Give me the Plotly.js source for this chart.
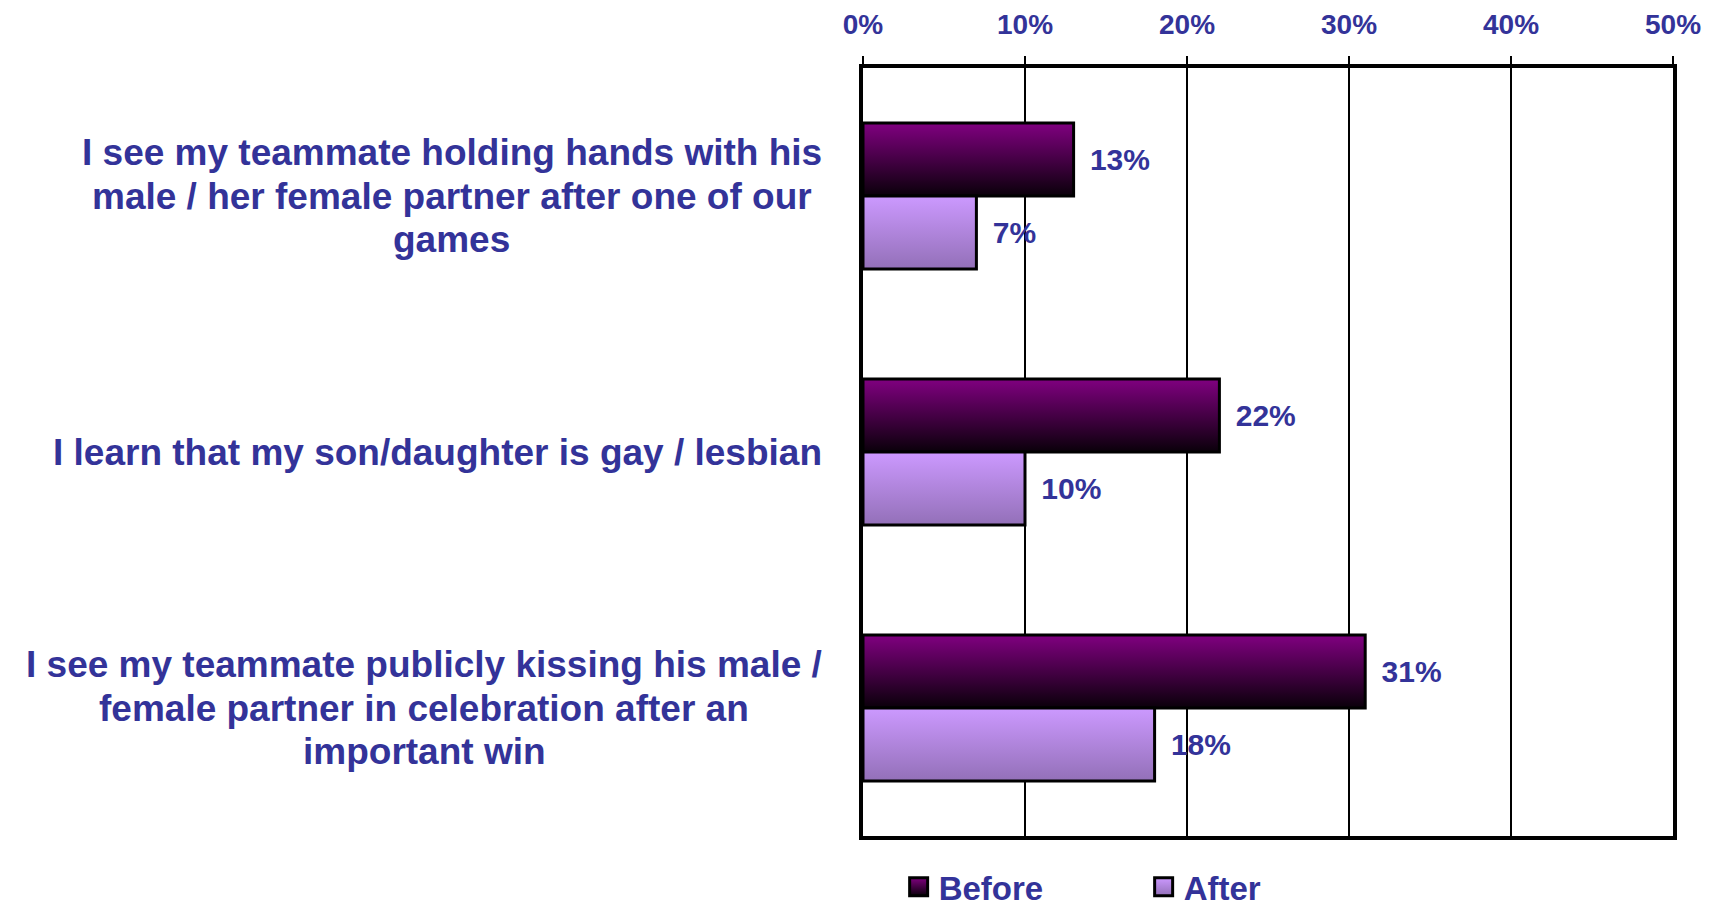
<!DOCTYPE html>
<html>
<head>
<meta charset="utf-8">
<script src="https://cdn.plot.ly/plotly-3.0.1.min.js"></script>
<style>
html,body{margin:0;padding:0;background:#fff;}
#chart{width:1713px;height:912px;}
</style>
</head>
<body>
<div id="chart"></div>
<script>
// ---- data ----
const categories = [
  "I see my teammate holding hands with his<br>male / her female partner after one of our<br>games",
  "I learn that my son/daughter is gay / lesbian",
  "I see my teammate publicly kissing his male /<br>female partner in celebration after an<br>important win"
];
const seriesNames = ["Before", "After"];
const beforeValues = [13, 22, 31];
const afterValues = [7, 10, 18];
const tickValues = [0, 10, 20, 30, 40, 50];
const tickLabels = ["0%", "10%", "20%", "30%", "40%", "50%"];

const FONT = "Liberation Sans, Arial, sans-serif";
const BLUE = "#333399";
const CAT_SIZE = 37;
const LINE_GAP = 43.7;
const LABEL_RIGHT = -41;

function barTrace(name, values, color) {
  return {
    type: "bar",
    orientation: "h",
    name: name,
    y: categories,
    x: values,
    text: values.map(v => "\u00a0\u2006" + v + "%"),
    textposition: "outside",
    cliponaxis: false,
    textfont: {family: FONT, size: 30, color: BLUE, weight: "bold"},
    marker: {color: color, line: {color: "#000", width: 3}},
    hoverinfo: "x+name"
  };
}

const data = [
  barTrace(seriesNames[0], beforeValues, "#5a005a"),
  barTrace(seriesNames[1], afterValues, "#b088e0")
];

// category labels: block right-aligned next to the axis, lines centred in the block
const ctx = document.createElement("canvas").getContext("2d");
ctx.font = "bold " + CAT_SIZE + "px 'Liberation Sans'";
const annotations = [];
categories.forEach(c => {
  const lines = c.split("<br>");
  const maxW = Math.max(...lines.map(l => ctx.measureText(l).width));
  const n = lines.length;
  lines.forEach((l, i) => {
    annotations.push({
      xref: "paper", yref: "y", x: 0, y: c,
      xanchor: "center", yanchor: "middle",
      xshift: LABEL_RIGHT - maxW / 2,
      yshift: ((n - 1) / 2 - i) * LINE_GAP,
      showarrow: false, text: l,
      font: {family: FONT, size: CAT_SIZE, color: BLUE, weight: "bold"}
    });
  });
});

const layout = {
  width: 1713, height: 912,
  margin: {l: 863, r: 40, t: 68, b: 76, pad: 0, autoexpand: false},
  paper_bgcolor: "#fff", plot_bgcolor: "#fff",
  barmode: "group", bargap: 0.43, bargroupgap: 0,
  showlegend: true,
  legend: {
    orientation: "h", x: 0.044, xanchor: "left", y: -0.066, yanchor: "middle",
    font: {family: FONT, size: 33, color: BLUE, weight: "bold"},
    entrywidth: 200, itemclick: false
  },
  xaxis: {
    side: "top", range: [0, 50],
    tickvals: tickValues, ticktext: tickLabels,
    tickfont: {family: FONT, size: 28, color: BLUE, weight: "bold"},
    ticks: "outside", ticklen: 8, tickwidth: 2, tickcolor: "#000",
    ticklabelstandoff: 11,
    showgrid: true, gridcolor: "#000", gridwidth: 2,
    showline: true, linecolor: "#000", linewidth: 4, mirror: true,
    zeroline: false, fixedrange: true
  },
  yaxis: {
    type: "category", autorange: "reversed",
    showticklabels: false, ticks: "",
    showgrid: false, zeroline: false,
    showline: true, linecolor: "#000", linewidth: 4, mirror: true,
    fixedrange: true
  },
  annotations: annotations
};

Plotly.newPlot("chart", data, layout, {displayModeBar: false, staticPlot: true}).then(gd => {
  const svgNS = "http://www.w3.org/2000/svg";
  const defs = gd.querySelector(".main-svg defs");
  const grads = [
    {id: "gBefore", top: "#800080", bottom: "#0a000a"},
    {id: "gAfter", top: "#cc99ff", bottom: "#9370b8"}
  ];
  grads.forEach(g => {
    const lg = document.createElementNS(svgNS, "linearGradient");
    lg.setAttribute("id", g.id);
    lg.setAttribute("x1", "0"); lg.setAttribute("y1", "0");
    lg.setAttribute("x2", "0"); lg.setAttribute("y2", "1");
    const s1 = document.createElementNS(svgNS, "stop");
    s1.setAttribute("offset", "0"); s1.setAttribute("stop-color", g.top);
    const s2 = document.createElementNS(svgNS, "stop");
    s2.setAttribute("offset", "1"); s2.setAttribute("stop-color", g.bottom);
    lg.appendChild(s1); lg.appendChild(s2);
    defs.appendChild(lg);
  });
  gd.querySelectorAll(".barlayer .trace").forEach((t, i) => {
    t.querySelectorAll("path").forEach(p => { p.style.fill = "url(#" + grads[i].id + ")"; });
  });
  gd.querySelectorAll(".legend .traces").forEach((t, i) => {
    t.querySelectorAll(".legendpoints path").forEach(p => {
      p.setAttribute("d", "M9,9H-9V-9H9Z");
      p.style.fill = "url(#" + grads[i].id + ")";
      p.style.stroke = "#000";
      p.style.strokeWidth = "3px";
    });
  });
});
</script>
</body>
</html>
